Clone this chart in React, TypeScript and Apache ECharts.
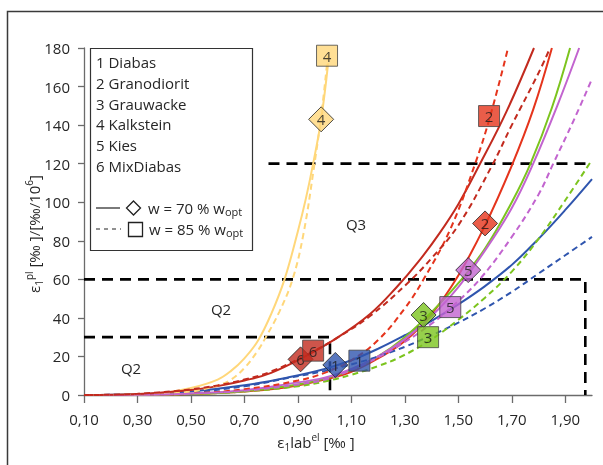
import React, { useEffect, useRef } from "react";
import * as echarts from "echarts";

// ---- axis ticks ----
const xTickValues = [0.1, 0.3, 0.5, 0.7, 0.9, 1.1, 1.3, 1.5, 1.7, 1.9];
const xMin = 0.1;
const xMax = 2.0;
const yMin = 0;
const yMax = 180;
const yInterval = 20;

// ---- materials ----
const materialNames = ["1 Diabas", "2 Granodiorit", "3 Grauwacke", "4 Kalkstein", "5 Kies", "6 MixDiabas"];
const markerLabels = ["1", "2", "3", "4", "5", "6"];
const materialColors = ["#2F55AE", "#E5341C", "#7CC41E", "#FFD77A", "#C264CF", "#C22A1E"];

// ---- curves: w = 70 % wopt (solid) ----
const diabas70: [number, number][] = [[0.1, 0], [0.3, 0.4], [0.5, 1.8], [0.7, 5], [0.87, 9.3], [1.0, 13.5], [1.1, 18], [1.2, 24], [1.3, 31], [1.4, 38.5], [1.5, 47], [1.6, 56.5], [1.7, 67.5], [1.8, 81], [1.9, 96], [2.0, 112]];
const granodiorit70: [number, number][] = [[0.1, 0], [0.3, 0.1], [0.5, 0.5], [0.7, 1.8], [0.87, 4.3], [1.0, 8], [1.1, 12], [1.2, 19], [1.3, 28], [1.4, 42], [1.5, 62], [1.6, 88], [1.7, 119], [1.78, 148], [1.85, 180]];
const grauwacke70: [number, number][] = [[0.1, 0], [0.3, 0.1], [0.5, 0.6], [0.7, 2], [0.9, 5.5], [1.0, 8.5], [1.1, 13], [1.2, 20], [1.3, 30], [1.4, 43], [1.5, 58], [1.6, 76], [1.7, 100], [1.77, 120], [1.85, 149], [1.918, 180]];
const kalkstein70: [number, number][] = [[0.1, 0], [0.3, 0.3], [0.4, 1.2], [0.5, 3.6], [0.6, 8], [0.65, 12.5], [0.7, 19], [0.75, 28], [0.8, 42], [0.85, 60], [0.9, 85], [0.93, 102], [0.957, 120], [0.987, 143], [1.013, 172]];
const kies70: [number, number][] = [[0.1, 0], [0.3, 0.1], [0.5, 0.8], [0.7, 2.5], [0.87, 5.9], [1.0, 9], [1.1, 13.5], [1.2, 20], [1.3, 29], [1.4, 41], [1.5, 56], [1.6, 75], [1.7, 97], [1.78, 120], [1.87, 150], [1.952, 180]];
const mixDiabas70: [number, number][] = [[0.1, 0], [0.3, 0.5], [0.5, 2.6], [0.6, 4.6], [0.7, 7.5], [0.8, 11.5], [0.92, 19.5], [1.045, 29.5], [1.17, 42], [1.27, 56], [1.35, 69], [1.43, 84], [1.5, 99], [1.574, 118], [1.68, 147], [1.783, 180]];

// ---- curves: w = 85 % wopt (dashed) ----
const diabas85: [number, number][] = [[0.1, 0], [0.3, 0.3], [0.5, 1.5], [0.7, 4.5], [0.87, 9], [1.0, 12.5], [1.13, 17], [1.2, 20], [1.3, 25], [1.4, 31], [1.5, 37.5], [1.6, 45], [1.7, 53.5], [1.8, 63], [1.9, 72.5], [2.0, 82]];
const granodiorit85: [number, number][] = [[0.1, 0], [0.3, 0.1], [0.5, 0.8], [0.7, 3], [0.9, 7.5], [1.0, 11.5], [1.1, 18], [1.2, 28.5], [1.3, 45], [1.37, 60], [1.47, 86], [1.563, 120], [1.62, 145], [1.686, 180]];
const grauwacke85: [number, number][] = [[0.1, 0], [0.3, 0.1], [0.5, 0.5], [0.7, 1.8], [0.9, 4.5], [1.0, 7], [1.1, 10.5], [1.2, 15], [1.28, 19.5], [1.39, 28], [1.5, 39], [1.6, 50.5], [1.7, 64], [1.8, 81], [1.9, 101], [2.0, 122]];
const kalkstein85: [number, number][] = [[0.1, 0], [0.3, 0.2], [0.5, 1.8], [0.6, 5], [0.65, 8], [0.7, 14], [0.75, 23], [0.78, 30], [0.83, 43], [0.88, 60], [0.92, 83], [0.96, 118], [0.99, 148], [1.012, 176]];
const kies85: [number, number][] = [[0.1, 0], [0.3, 0.1], [0.5, 0.7], [0.7, 2.2], [0.9, 5.5], [1.0, 8], [1.1, 13], [1.2, 19.5], [1.3, 27.5], [1.4, 37], [1.47, 45], [1.58, 60], [1.7, 82], [1.8, 104], [1.855, 120], [1.93, 142], [2.0, 164]];
const mixDiabas85: [number, number][] = [[0.1, 0], [0.3, 0.6], [0.5, 2.9], [0.6, 5], [0.7, 8], [0.8, 12.2], [0.957, 22.5], [1.045, 29.5], [1.17, 41], [1.31, 58], [1.4, 71], [1.5, 88], [1.626, 119], [1.7, 140], [1.8, 167], [1.843, 180]];

const curves70 = [diabas70, granodiorit70, grauwacke70, kalkstein70, kies70, mixDiabas70];
const curves85 = [diabas85, granodiorit85, grauwacke85, kalkstein85, kies85, mixDiabas85];

// ---- markers ----
const diamondPoints: [number, number][] = [[1.04, 15.6], [1.6, 89], [1.37, 41.5], [0.987, 143], [1.537, 64.8], [0.91, 18.5]];
const squarePoints: [number, number][] = [[1.13, 17.8], [1.615, 144.7], [1.387, 30], [1.009, 176], [1.47, 45.6], [0.957, 23]];

// ---- quadrant boundaries ----
const boundary30: [number, number][] = [[0.1, 30], [1.02, 30], [1.02, 0]];
const boundary60: [number, number][] = [[0.1, 60], [1.975, 60], [1.975, 0]];
const boundary120: [number, number][] = [[0.79, 120], [1.985, 120]];

const FONT = '"Open Sans", "DejaVu Sans", sans-serif';
const TXT = "#262626";

export default function App() {
  const ref = useRef<HTMLDivElement>(null);

  useEffect(() => {
    if (!ref.current) return;
    const chart = echarts.init(ref.current, undefined, { renderer: "svg" });

    const lineSeries: any[] = [];
    curves70.forEach((d, i) => {
      lineSeries.push({
        type: "line",
        name: materialNames[i] + " 70",
        data: d,
        showSymbol: false,
        smooth: 0.4,
        lineStyle: { color: materialColors[i], width: 2 },
        z: 3,
      });
    });
    curves85.forEach((d, i) => {
      lineSeries.push({
        type: "line",
        name: materialNames[i] + " 85",
        data: d,
        showSymbol: false,
        smooth: 0.4,
        lineStyle: { color: materialColors[i], width: 2, type: [6, 4] },
        z: 3,
      });
    });

    const boundarySeries = [boundary30, boundary60, boundary120].map((d) => ({
      type: "line",
      data: d,
      showSymbol: false,
      lineStyle: { color: "#000", width: 2.6, type: [11, 7] },
      z: 2,
    }));

    const markerLabel = {
      show: true,
      position: "inside",
      formatter: (p: any) => p.data.label,
      fontSize: 15,
      fontFamily: FONT,
      color: "#1a1a1a",
    };

    const diamondSeries = {
      type: "scatter",
      symbol: "diamond",
      symbolSize: [25, 25],
      clip: false,
      z: 5,
      data: diamondPoints.map((p, i) => ({
        value: p,
        label: markerLabels[i],
        itemStyle: { color: materialColors[i], borderColor: "#222", borderWidth: 1 },
      })),
      label: markerLabel,
    };
    const squareSeries = {
      type: "scatter",
      symbol: "rect",
      symbolSize: [21, 21],
      clip: false,
      z: 6,
      data: squarePoints.map((p, i) => ({
        value: p,
        label: markerLabels[i],
        itemStyle: { color: materialColors[i], borderColor: "#444", borderWidth: 1 },
      })),
      label: markerLabel,
    };

    const legendTexts = materialNames.map((n, i) => ({
      type: "text",
      x: 96,
      y: 62 + i * 20.8,
      style: { text: n, fill: TXT, fontSize: 15, fontFamily: FONT, textVerticalAlign: "middle" },
      z: 101,
    }));

    const richW = {
      m: { fontSize: 15, fontFamily: FONT, fill: TXT, lineHeight: 18 },
      s: { fontSize: 11, fontFamily: FONT, fill: TXT, lineHeight: 11, verticalAlign: "bottom" },
    };

    const axisRich = {
      m: { fontSize: 15, fontFamily: FONT, fill: TXT, lineHeight: 20 },
      s: { fontSize: 10, fontFamily: FONT, fill: TXT, lineHeight: 10, verticalAlign: "bottom" },
      p: { fontSize: 10, fontFamily: FONT, fill: TXT, lineHeight: 10, verticalAlign: "top" },
    };

    chart.setOption({
      animation: false,
      grid: { left: 84, right: 11, top: 48, bottom: 70 },
      xAxis: {
        type: "value",
        min: xMin,
        max: xMax,
        splitLine: { show: false },
        axisLine: { lineStyle: { color: "#6b6b6b", width: 1.3 } },
        axisTick: { customValues: xTickValues, length: 8, lineStyle: { color: "#6b6b6b", width: 1.3 } },
        axisLabel: {
          customValues: xTickValues,
          formatter: (v: number) => v.toFixed(2).replace(".", ","),
          fontSize: 15,
          fontFamily: FONT,
          color: TXT,
          margin: 16,
        },
      },
      yAxis: {
        type: "value",
        min: yMin,
        max: yMax,
        interval: yInterval,
        splitLine: { show: false },
        axisLine: { show: true, lineStyle: { color: "#6b6b6b", width: 1.3 } },
        axisTick: { show: true, length: 6, lineStyle: { color: "#6b6b6b", width: 1.3 } },
        axisLabel: { fontSize: 15, fontFamily: FONT, color: TXT, margin: 14 },
      },
      series: [...boundarySeries, ...lineSeries, diamondSeries, squareSeries],
      graphic: [
        {
          type: "rect",
          shape: { x: 7.5, y: 11.5, width: 800, height: 800 },
          style: { fill: "none", stroke: "#3a3a3a", lineWidth: 1.5 },
          silent: true,
          z: 100,
        },
        {
          type: "rect",
          shape: { x: 90.5, y: 48.5, width: 162, height: 202 },
          style: { fill: "#fff", stroke: "#333", lineWidth: 1.2 },
          z: 100,
        },
        ...legendTexts,
        {
          type: "line",
          shape: { x1: 96, y1: 208, x2: 120, y2: 208 },
          style: { stroke: "#222", lineWidth: 1.2 },
          z: 101,
        },
        {
          type: "line",
          shape: { x1: 96, y1: 229, x2: 121, y2: 229 },
          style: { stroke: "#222", lineWidth: 1.2, lineDash: [4, 4] },
          z: 101,
        },
        {
          type: "polygon",
          shape: { points: [[133.5, 201], [140.5, 208], [133.5, 215], [126.5, 208]] },
          style: { fill: "#fff", stroke: "#222", lineWidth: 1.3 },
          z: 101,
        },
        {
          type: "rect",
          shape: { x: 128.5, y: 222.5, width: 14, height: 14 },
          style: { fill: "#fff", stroke: "#222", lineWidth: 1.3 },
          z: 101,
        },
        {
          type: "text",
          x: 148,
          y: 208,
          style: { text: "{m|w = 70 % w}{s|opt}", rich: richW, textVerticalAlign: "middle" },
          z: 101,
        },
        {
          type: "text",
          x: 149,
          y: 229,
          style: { text: "{m|w = 85 % w}{s|opt}", rich: richW, textVerticalAlign: "middle" },
          z: 101,
        },
        {
          type: "text",
          x: 356,
          y: 224,
          style: { text: "Q3", fill: TXT, fontSize: 15, fontFamily: FONT, textAlign: "center", textVerticalAlign: "middle" },
          z: 50,
        },
        {
          type: "text",
          x: 221,
          y: 309,
          style: { text: "Q2", fill: TXT, fontSize: 15, fontFamily: FONT, textAlign: "center", textVerticalAlign: "middle" },
          z: 50,
        },
        {
          type: "text",
          x: 131,
          y: 368,
          style: { text: "Q2", fill: TXT, fontSize: 15, fontFamily: FONT, textAlign: "center", textVerticalAlign: "middle" },
          z: 50,
        },
        {
          type: "text",
          x: 316,
          y: 442,
          style: {
            text: "{m|ε}{s|1}{m|lab}{p|el}{m| [‰ ]}",
            rich: axisRich,
            textAlign: "center",
            textVerticalAlign: "middle",
          },
          z: 50,
        },
        {
          type: "text",
          x: 34,
          y: 234,
          rotation: Math.PI / 2,
          style: {
            text: "{m|ε}{s|1}{p|pl}{m| [‰ ]/[‰/10}{p|6}{m|]}",
            rich: axisRich,
            textAlign: "center",
            textVerticalAlign: "middle",
          },
          z: 50,
        },
      ],
    });

    return () => chart.dispose();
  }, []);

  return <div ref={ref} style={{ position: "fixed", left: 0, top: 0, width: 603, height: 465 }} />;
}
